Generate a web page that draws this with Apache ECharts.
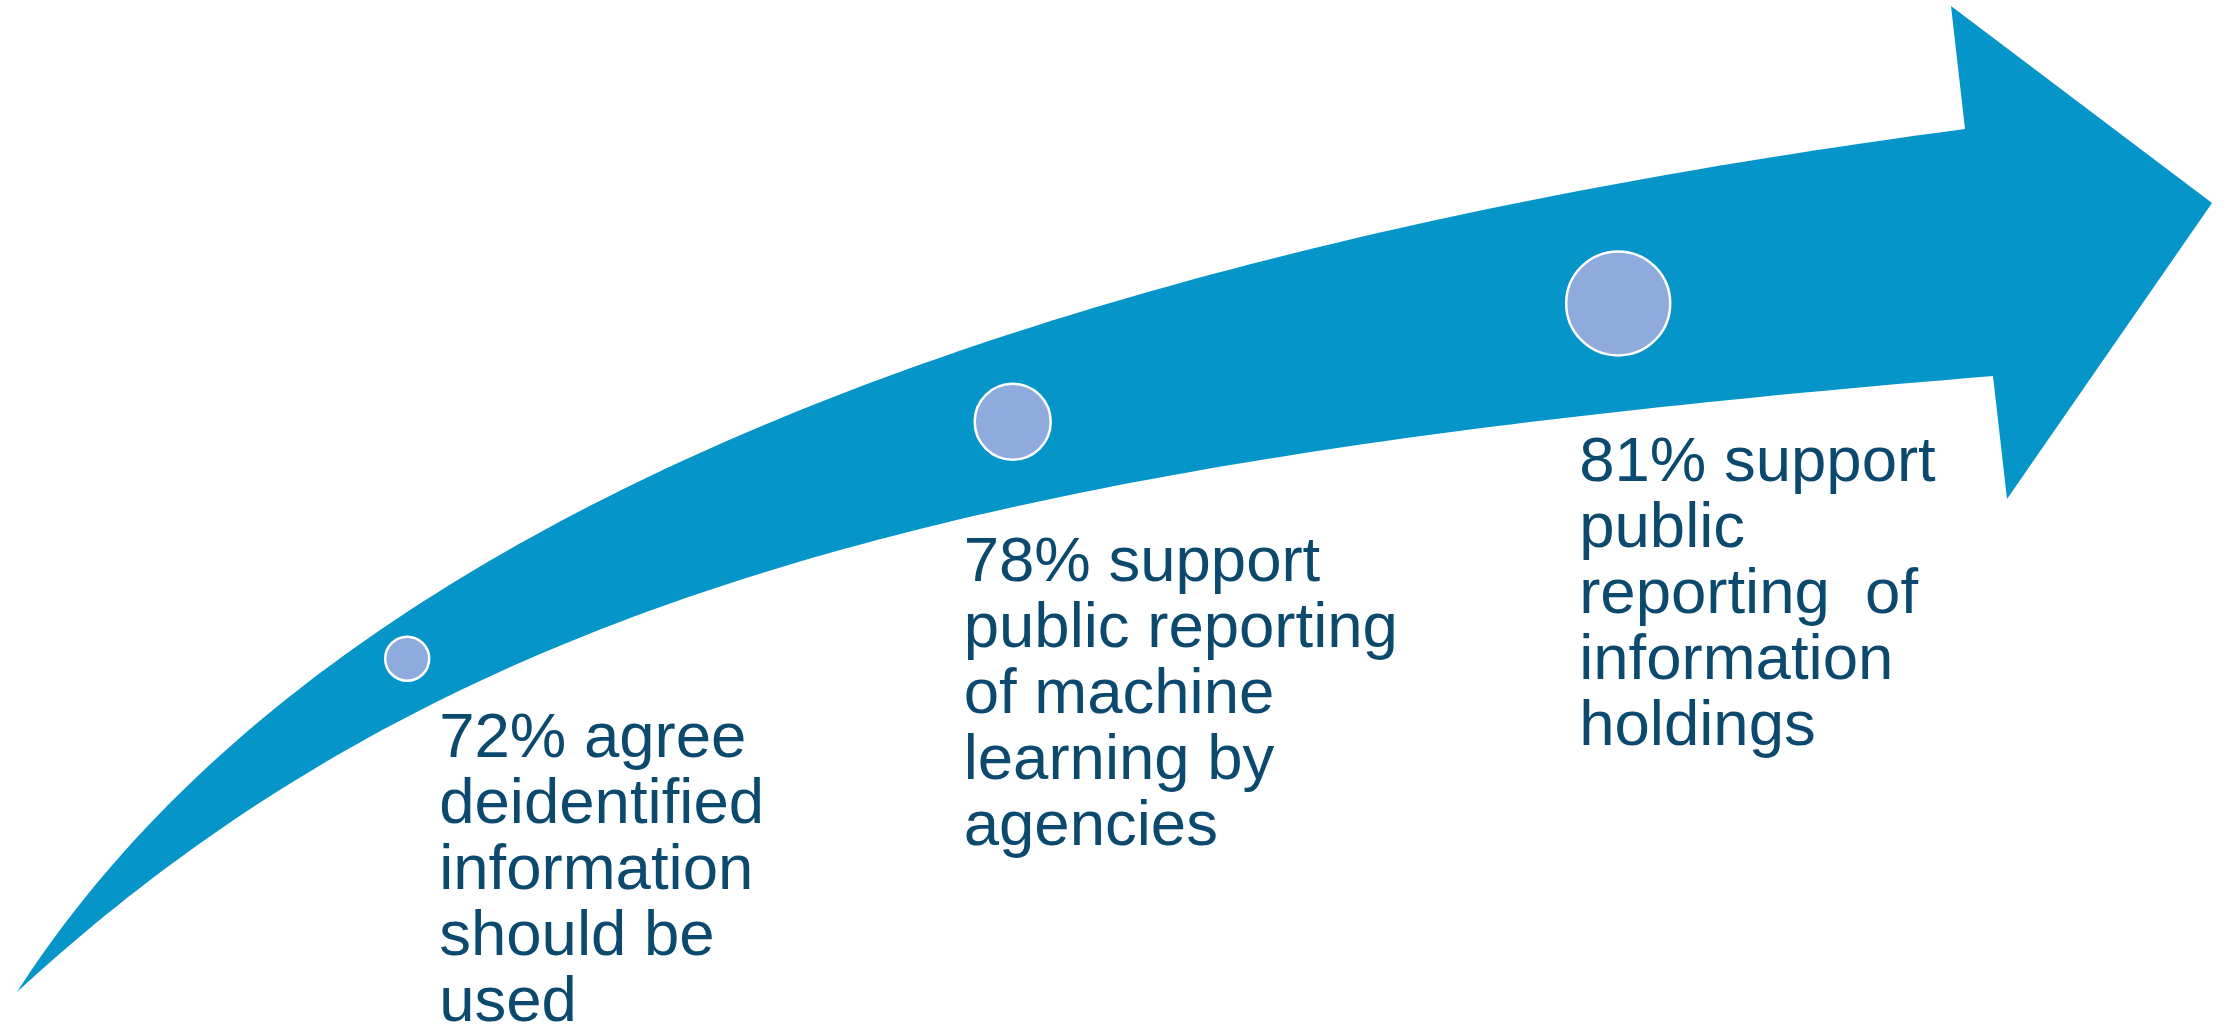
<!DOCTYPE html>
<html>
<head>
<meta charset="utf-8">
<script src="https://cdn.jsdelivr.net/npm/echarts@6/dist/echarts.min.js"></script>
<style>
html,body{margin:0;padding:0;background:#fff;}
#chart{width:2226px;height:1029px;}
</style>
</head>
<body>
<div id="chart"></div>
<script>
// ---- data ----
const steps = ['Deidentified information', 'Machine learning reporting', 'Information holdings reporting'];
const percentValues = [72, 78, 81];
const statements = [
  '72% agree\ndeidentified\ninformation\nshould be\nused',
  '78% support\npublic reporting\nof machine\nlearning by\nagencies',
  '81% support\npublic\nreporting  of\ninformation\nholdings'
];

// ---- styling / geometry (decorative arrow, not data) ----
const markerDiameters = [44, 76, 104];
const labelOffsets = [[32, 48], [-49, 109], [-39, 127]];
// cubic bezier control points for the arrow's two edges (pixels)
const upperEdge = [[17,992],[299.7,551.3],[949,263.7],[1965,129]];
const arrowHead = [[1951,6],[2212,203],[2007,499]];
const lowerEdge = [[1993,376],[993,458],[455,588],[17,992]];

function bezierPoints(c, n) {
  const out = [];
  for (let s = 0; s <= n; s++) {
    const t = s / n, u = 1 - t;
    const a = u*u*u, b = 3*u*u*t, d = 3*u*t*t, e = t*t*t;
    out.push([a*c[0][0] + b*c[1][0] + d*c[2][0] + e*c[3][0],
              a*c[0][1] + b*c[1][1] + d*c[2][1] + e*c[3][1]]);
  }
  return out;
}
const arrowPoints = bezierPoints(upperEdge, 120).concat(arrowHead, bezierPoints(lowerEdge, 120).slice(0, -1));

const chart = echarts.init(document.getElementById('chart'), null, {renderer: 'canvas'});
chart.setOption({
  animation: false,
  backgroundColor: '#ffffff',
  grid: {left: 104.45, right: 305.05, top: 0, bottom: 0},
  xAxis: {type: 'category', data: steps, show: false, boundaryGap: true},
  yAxis: {type: 'value', min: 62.62, max: 88.685, show: false},
  graphic: [{
    type: 'polygon',
    z: 0,
    silent: true,
    shape: {points: arrowPoints},
    style: {fill: '#0595C9'}
  }],
  series: [{
    type: 'scatter',
    z: 10,
    data: percentValues.map((v, i) => ({
      value: [i, v],
      symbolSize: markerDiameters[i],
      label: {offset: labelOffsets[i], formatter: statements[i]}
    })),
    symbol: 'circle',
    itemStyle: {color: '#8FAADC', borderColor: '#ffffff', borderWidth: 2.5, opacity: 1},
    label: {
      show: true,
      position: 'inside',
      align: 'left',
      verticalAlign: 'top',
      color: '#0B4A6E',
      fontFamily: '"Liberation Sans", Arial, sans-serif',
      fontSize: 63.5,
      lineHeight: 66
    },
    emphasis: {disabled: true}
  }]
});
</script>
</body>
</html>
